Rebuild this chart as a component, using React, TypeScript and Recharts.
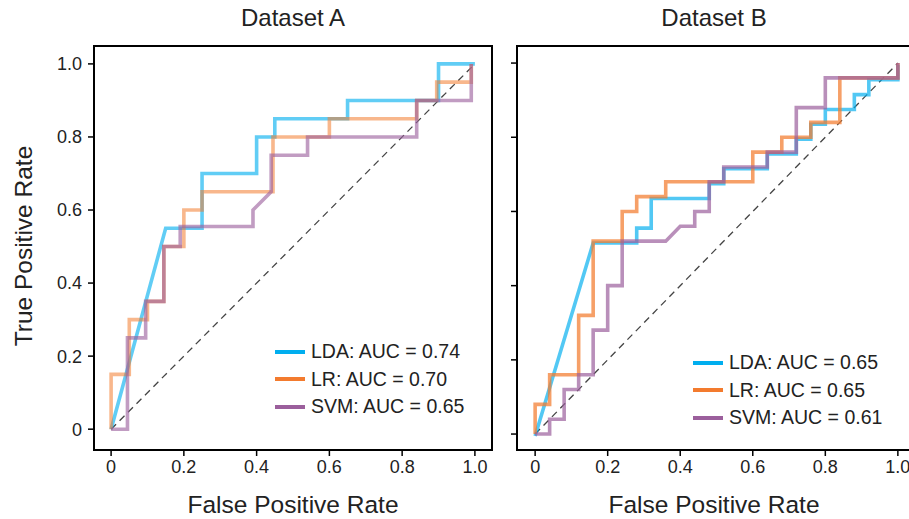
import React from "react";
import { LineChart, Line, XAxis, YAxis, ReferenceArea, ReferenceLine } from "recharts";

// ticks / labels
const axisTicks = [0, 0.2, 0.4, 0.6, 0.8, 1.0];
const tickLabels = ["0", "0.2", "0.4", "0.6", "0.8", "1.0"];
const models = ["LDA", "LR", "SVM"];
const aucA = ["0.74", "0.70", "0.65"];
const aucB = ["0.65", "0.65", "0.61"];
const titles = ["Dataset A", "Dataset B"];

// Dataset A curves
const ldaFprA = [0, 0.15, 0.25, 0.25, 0.4, 0.4, 0.45, 0.45, 0.65, 0.65, 0.9, 0.9, 1.0];
const ldaTprA = [0, 0.55, 0.55, 0.7, 0.7, 0.8, 0.8, 0.85, 0.85, 0.9, 0.9, 1.0, 1.0];
const lrFprA = [0, 0, 0.05, 0.05, 0.1, 0.1, 0.145, 0.145, 0.2, 0.2, 0.25, 0.25, 0.445, 0.445, 0.6, 0.6, 0.84, 0.84, 0.895, 0.895, 0.99, 0.99];
const lrTprA = [0, 0.15, 0.15, 0.3, 0.3, 0.35, 0.35, 0.5, 0.5, 0.6, 0.6, 0.65, 0.65, 0.8, 0.8, 0.85, 0.85, 0.9, 0.9, 0.95, 0.95, 1.0];
const svmFprA = [0, 0.045, 0.045, 0.095, 0.095, 0.145, 0.145, 0.19, 0.19, 0.39, 0.39, 0.44, 0.44, 0.54, 0.54, 0.84, 0.84, 0.99, 0.99];
const svmTprA = [0, 0, 0.25, 0.25, 0.35, 0.35, 0.5, 0.5, 0.555, 0.555, 0.6, 0.65, 0.75, 0.75, 0.8, 0.8, 0.9, 0.9, 1.0];

// Dataset B curves
const ldaFprB = [0, 0.16, 0.28, 0.28, 0.32, 0.32, 0.48, 0.48, 0.52, 0.52, 0.64, 0.64, 0.72, 0.72, 0.76, 0.76, 0.8, 0.8, 0.88, 0.88, 0.92, 0.92, 1.0, 1.0];
const ldaTprB = [-0.005, 0.515, 0.515, 0.555, 0.555, 0.635, 0.635, 0.675, 0.675, 0.715, 0.715, 0.755, 0.755, 0.795, 0.795, 0.835, 0.835, 0.875, 0.875, 0.915, 0.915, 0.955, 0.955, 0.995];
const lrFprB = [0, 0, 0.04, 0.04, 0.12, 0.12, 0.16, 0.16, 0.24, 0.24, 0.28, 0.28, 0.36, 0.36, 0.6, 0.6, 0.68, 0.68, 0.76, 0.76, 0.84, 0.84, 1.0, 1.0];
const lrTprB = [0, 0.08, 0.08, 0.16, 0.16, 0.32, 0.32, 0.52, 0.52, 0.6, 0.6, 0.64, 0.64, 0.68, 0.68, 0.76, 0.76, 0.8, 0.8, 0.84, 0.84, 0.96, 0.96, 1.0];
const svmFprB = [0, 0.04, 0.04, 0.08, 0.08, 0.12, 0.12, 0.16, 0.16, 0.2, 0.2, 0.24, 0.24, 0.36, 0.4, 0.44, 0.44, 0.48, 0.48, 0.52, 0.52, 0.64, 0.64, 0.72, 0.72, 0.8, 0.8, 1.0, 1.0];
const svmTprB = [0, 0, 0.04, 0.04, 0.12, 0.12, 0.16, 0.16, 0.28, 0.28, 0.4, 0.4, 0.52, 0.52, 0.56, 0.56, 0.6, 0.6, 0.68, 0.68, 0.72, 0.72, 0.76, 0.76, 0.88, 0.88, 0.96, 0.96, 1.0];

const COLORS = ["#00AEEF", "#F37B2E", "#9B5F9C"];
const FONT = '"Liberation Sans", Arial, Helvetica, sans-serif';

const zip = (xs: number[], ys: number[]) => xs.map((x, i) => ({ x, y: ys[i] }));

const curvesA = [zip(ldaFprA, ldaTprA), zip(lrFprA, lrTprA), zip(svmFprA, svmTprA)];
const curvesB = [zip(ldaFprB, ldaTprB), zip(lrFprB, lrTprB), zip(svmFprB, svmTprB)];

const fmt = (v: number) => tickLabels[axisTicks.indexOf(v)] ?? "";
const tickStyle = { fill: "#222", fontSize: 18, fontFamily: FONT };

function Panel(props: {
  left: number;
  width: number;
  margin: { top: number; right: number; bottom: number; left: number };
  yWidth: number;
  xDomain: [number, number];
  yDomain: [number, number];
  curves: { x: number; y: number }[][];
  opacity: number[];
  yLabels: boolean;
}) {
  const { left, width, margin, yWidth, xDomain, yDomain, curves, opacity, yLabels } = props;
  return (
    <div style={{ position: "absolute", left, top: 0 }}>
      <LineChart width={width} height={519} margin={margin}>
        <XAxis
          type="number"
          dataKey="x"
          domain={xDomain}
          ticks={axisTicks}
          allowDataOverflow
          interval={0}
          axisLine={false}
          tickLine={{ stroke: "#000", strokeWidth: 1.5 }}
          tickSize={6}
          tickMargin={4}
          height={40}
          tick={tickStyle}
          tickFormatter={fmt}
        />
        <YAxis
          type="number"
          dataKey="y"
          domain={yDomain}
          ticks={axisTicks}
          allowDataOverflow
          interval={0}
          axisLine={false}
          tickLine={{ stroke: "#000", strokeWidth: 1.5 }}
          tickSize={6}
          tickMargin={6}
          width={yWidth}
          tick={tickStyle}
          tickFormatter={yLabels ? fmt : () => ""}
        />
        <ReferenceArea
          x1={xDomain[0]}
          x2={xDomain[1]}
          y1={yDomain[0]}
          y2={yDomain[1]}
          fill="none"
          stroke="#000"
          strokeWidth={2}
        />
        <ReferenceLine
          segment={[{ x: 0, y: 0 }, { x: 1, y: 1 }]}
          stroke="#444"
          strokeWidth={1.3}
          strokeDasharray="7 5"
        />
        {curves.map((d, i) => (
          <Line
            key={models[i]}
            data={d}
            dataKey="y"
            type="linear"
            stroke={COLORS[i]}
            strokeOpacity={opacity[i]}
            strokeWidth={3.6}
            dot={false}
            activeDot={false}
            isAnimationActive={false}
          />
        ))}
      </LineChart>
    </div>
  );
}

function LegendBox({ left, top, aucs }: { left: number; top: number; aucs: string[] }) {
  return (
    <div style={{ position: "absolute", left, top, fontFamily: FONT, fontSize: 19.5, color: "#222" }}>
      {models.map((m, i) => (
        <div key={m} style={{ display: "flex", alignItems: "center", height: 27.5 }}>
          <div style={{ width: 30, height: 4, background: COLORS[i], marginRight: 6 }} />
          <span>{`${m}: AUC = ${aucs[i]}`}</span>
        </div>
      ))}
    </div>
  );
}

const textStyle: React.CSSProperties = {
  position: "absolute",
  fontFamily: FONT,
  color: "#222",
  whiteSpace: "nowrap",
  transform: "translate(-50%, -50%)",
};

export default function App() {
  return (
    <div style={{ position: "fixed", left: 0, top: 0, width: 909, height: 519, overflow: "hidden", background: "#fff" }}>
      <Panel
        left={0}
        width={500}
        margin={{ top: 46, right: 8, bottom: 29, left: 34 }}
        yWidth={60}
        xDomain={[-0.047, 1.047]}
        yDomain={[-0.057, 1.049]}
        curves={curvesA}
        opacity={[0.62, 0.55, 0.62]}
        yLabels
      />
      <Panel
        left={497}
        width={420}
        margin={{ top: 46, right: 1, bottom: 29, left: 0 }}
        yWidth={20}
        xDomain={[-0.05, 1.05]}
        yDomain={[-0.043, 1.046]}
        curves={curvesB}
        opacity={[0.68, 0.72, 0.7]}
        yLabels={false}
      />
      <LegendBox left={275} top={338} aucs={aucA} />
      <LegendBox left={693} top={349} aucs={aucB} />
      <div style={{ ...textStyle, left: 293, top: 18, fontSize: 24 }}>{titles[0]}</div>
      <div style={{ ...textStyle, left: 714, top: 18, fontSize: 24 }}>{titles[1]}</div>
      <div style={{ ...textStyle, left: 293, top: 505, fontSize: 24.5 }}>False Positive Rate</div>
      <div style={{ ...textStyle, left: 714, top: 505, fontSize: 24.5 }}>False Positive Rate</div>
      <div style={{ ...textStyle, left: 24, top: 246, fontSize: 24.5, transform: "translate(-50%, -50%) rotate(-90deg)" }}>
        True Positive Rate
      </div>
    </div>
  );
}
